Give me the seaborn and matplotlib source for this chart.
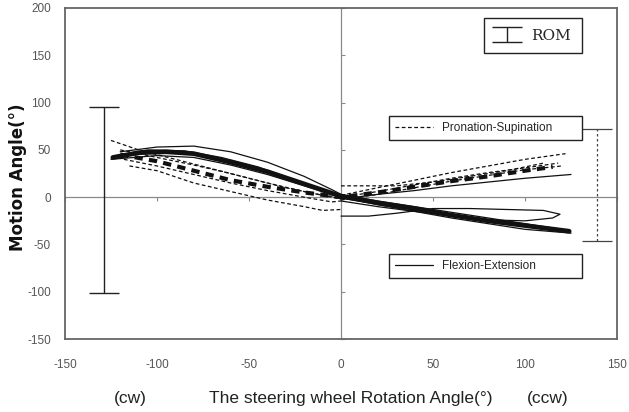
"""Wrist motion angle vs steering wheel rotation angle"""

import matplotlib

matplotlib.use("Agg")
import matplotlib.pyplot as plt
import pandas as pd
import seaborn as sns
from matplotlib.lines import Line2D

# flexion-extension curves (solid); first one is the mean (thick)
flex_x = [
    [-124, -110, -95, -80, -60, -40, -20, 0, 20, 40, 60, 80, 100, 124],
    [-120, -100, -80, -60, -40, -20, -5, 0],
    [-125, -100, -80, -60, -40, -20, 0],
    [-122, -105, -85, -65, -45, -25, -8, 0],
    [0, 15, 30, 50, 70, 90, 110, 119, 115, 100, 80, 60, 40, 20, 0],
    [0, 20, 40, 60, 80, 100, 125],
    [0, 20, 40, 60, 80, 100, 120],
    [0, 20, 40, 60, 80, 100, 122],
    [0, 20, 40, 60, 80, 100, 125],
]
flex_y = [
    [42, 47, 48, 46, 37, 27, 14, 1, -6, -12, -19, -25, -30, -36],
    [48, 53, 54, 48, 37, 22, 8, 3],
    [40, 44, 42, 34, 24, 12, 0],
    [44, 50, 49, 42, 32, 18, 6, 2],
    [-20, -20, -17, -12, -12, -13, -14, -18, -22, -25, -24, -20, -15, -10, -4],
    [0, -8, -15, -22, -28, -34, -38],
    [3, -4, -10, -16, -22, -28, -34],
    [-1, -7, -13, -19, -25, -30, -35],
    [-2, 3, 7, 12, 16, 20, 24],
]

# pronation-supination curves (dashed); first one is the mean (thick)
pron_x = [
    [-120, -100, -80, -60, -40, -20, 0, 20, 40, 60, 80, 100, 115],
    [-125, -110, -90, -70, -50, -30, -10, 0],
    [-115, -100, -80, -60, -40, -20, -10, 0],
    [-120, -100, -80, -60, -40, -20, 0],
    [-118, -100, -80, -60, -40, -20, -5, 0],
    [0, 20, 40, 60, 80, 100, 122],
    [0, 20, 40, 60, 80, 100, 120],
    [0, 20, 40, 60, 80, 100, 118],
    [0, 15, 30, 50, 70, 90, 110],
]
pron_y = [
    [45, 38, 28, 18, 11, 5, 0, 5, 11, 17, 22, 28, 32],
    [60, 50, 40, 30, 20, 10, 2, 0],
    [33, 28, 15, 6, -3, -10, -14, -13],
    [50, 42, 34, 25, 15, 6, -2],
    [40, 33, 24, 15, 7, 0, -5, -4],
    [2, 10, 18, 26, 33, 40, 46],
    [-3, 3, 10, 17, 23, 29, 33],
    [0, 6, 13, 20, 26, 31, 36],
    [12, 12, 12, 16, 22, 28, 36],
]

# range of motion bars
rom_x = [-129, 139]
rom_lo = [-101, -46]
rom_hi = [95, 72]

x_ticks = [-150, -100, -50, 0, 50, 100, 150]
y_ticks = [-150, -100, -50, 0, 50, 100, 150, 200]


def main():
    sns.set_style("white")
    plt.rcParams["axes.unicode_minus"] = False
    fig = plt.figure(figsize=(6.29, 4.12), dpi=100)
    ax = fig.add_axes([0.1033, 0.177, 0.8777, 0.8036])
    ink = "#111111"

    for i, (xs, ys) in enumerate(zip(flex_x, flex_y)):
        d = pd.DataFrame({"x": xs, "y": ys})
        sns.lineplot(data=d, x="x", y="y", sort=False, estimator=None, ax=ax,
                     color=ink, lw=3.4 if i == 0 else 0.9)
    for i, (xs, ys) in enumerate(zip(pron_x, pron_y)):
        d = pd.DataFrame({"x": xs, "y": ys})
        sns.lineplot(data=d, x="x", y="y", sort=False, estimator=None, ax=ax,
                     color=ink, lw=3.0 if i == 0 else 0.9,
                     linestyle=(0, (2.0, 1.5)) if i == 0 else (0, (3, 2)))

    # ROM bars
    mid = [(a + b) / 2 for a, b in zip(rom_lo, rom_hi)]
    err = [(b - a) / 2 for a, b in zip(rom_lo, rom_hi)]
    rom = ax.errorbar(rom_x[:1], mid[:1], yerr=err[:1], fmt="none",
                      ecolor="#222222", elinewidth=1.0, capsize=11,
                      capthick=1.0)
    eb2 = ax.errorbar(rom_x[1:], mid[1:], yerr=err[1:], fmt="none",
                      ecolor="#444444", elinewidth=0.9, capsize=11,
                      capthick=0.9)
    eb2[2][0].set_linestyle((0, (2, 2)))

    ax.set_xlim(-150, 150)
    ax.set_ylim(-150, 200)
    ax.set_xticks(x_ticks)
    ax.set_yticks(y_ticks)
    ax.tick_params(length=0, labelsize=8.5, labelcolor="#555555")
    for lab in ax.get_xticklabels() + ax.get_yticklabels():
        lab.set_family(["Liberation Sans", "DejaVu Sans"])
    ax.tick_params(axis="x", pad=14)
    ax.tick_params(axis="y", pad=10)
    for sp in ax.spines.values():
        sp.set_visible(True)
        sp.set_color("#666666")
        sp.set_linewidth(1.3)

    # axes crossing at the origin
    grey = "#8a8a8a"
    sx = ax.secondary_xaxis(150 / 350)
    sx.set_xticks(x_ticks)
    sx.tick_params(direction="out", length=3, width=0.8, color=grey,
                   labelbottom=False, labeltop=False)
    for sp in sx.spines.values():
        sp.set_color(grey)
        sp.set_linewidth(0.9)
    sy = ax.secondary_yaxis(0.5)
    sy.set_yticks(y_ticks)
    sy.tick_params(direction="out", length=3, width=0.8, color=grey,
                   labelleft=False, labelright=False)
    for sp in sy.spines.values():
        sp.set_color(grey)
        sp.set_linewidth(0.9)

    ax.set_xlabel("")
    ax.set_ylabel("Motion Angle(°)", fontsize=12, fontweight="bold",
                  color="#111111")
    ax.yaxis.set_label_coords(-0.069, 0.49)

    fam = ["Liberation Sans", "DejaVu Sans"]
    fig.text(0.558, 0.022, "The steering wheel Rotation Angle(°)",
             fontsize=12.5, family=fam, color="#222222", ha="center")
    fig.text(0.207, 0.022, "(cw)", fontsize=12.5, family=fam,
             color="#222222", ha="center")
    fig.text(0.870, 0.022, "(ccw)", fontsize=12.5, family=fam,
             color="#222222", ha="center")

    frame = dict(frameon=True, fancybox=False, edgecolor="#222222",
                 framealpha=1, borderaxespad=0, loc="upper left",
                 mode="expand")
    leg1 = ax.legend([rom], ["ROM"],
                     bbox_to_anchor=(0.759, 0.846, 0.178, 0.124),
                     prop={"family": "DejaVu Serif", "size": 11},
                     handlelength=1.6, borderpad=0.7, **frame)
    ax.add_artist(leg1)
    h2 = Line2D([], [], color=ink, lw=0.9, linestyle=(0, (3, 2)))
    leg2 = ax.legend([h2], ["Pronation-Supination"],
                     bbox_to_anchor=(0.587, 0.592, 0.350, 0.082),
                     prop={"size": 8.5, "family": fam},
                     handlelength=3.2, borderpad=0.5, **frame)
    ax.add_artist(leg2)
    h3 = Line2D([], [], color=ink, lw=0.9)
    ax.legend([h3], ["Flexion-Extension"],
              bbox_to_anchor=(0.587, 0.178, 0.350, 0.079),
              prop={"size": 8.5, "family": fam},
              handlelength=3.2, borderpad=0.5, **frame)

    fig.savefig("out.png", dpi=100)


if __name__ == "__main__":
    main()
